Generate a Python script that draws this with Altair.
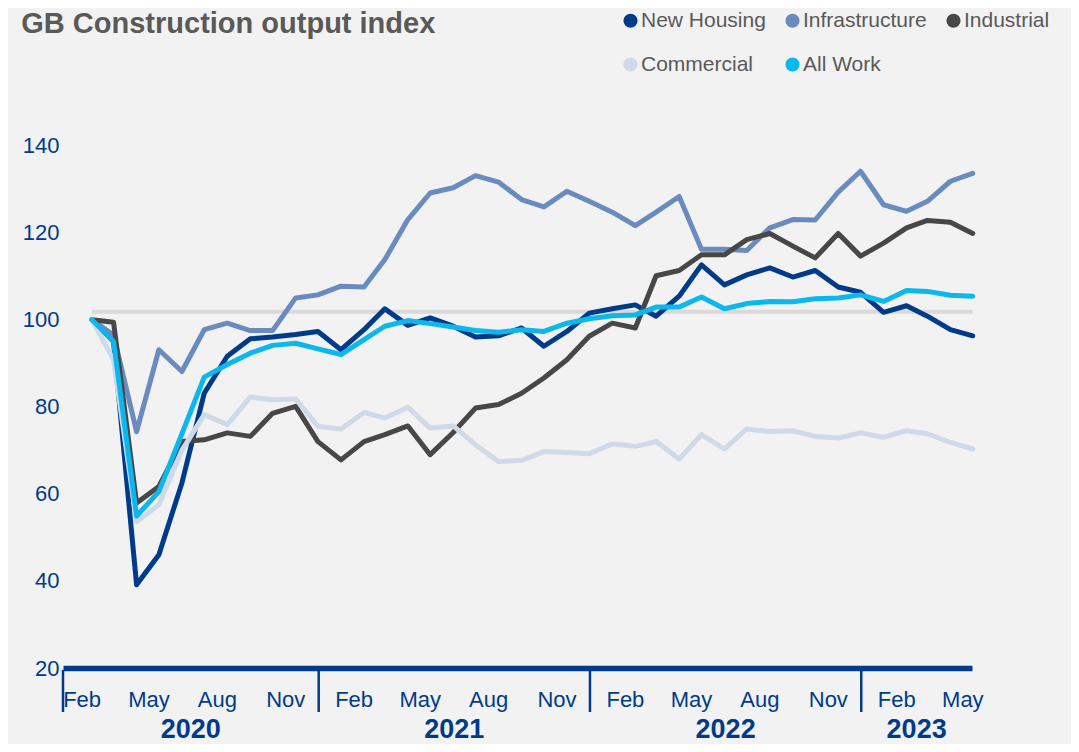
import altair as alt
import pandas as pd

# ---------------- data ----------------
months = pd.date_range("2020-02-01", periods=40, freq="MS") + pd.Timedelta(days=14)

series_names = ["New Housing", "Infrastructure", "Industrial", "Commercial", "All Work"]
series_colors = ["#003B8A", "#6A8BBE", "#474747", "#CED9EA", "#0BB8EE"]

new_housing = [100, 95.0, 39.1, 46.0, 62.5, 83.1, 91.6, 95.6, 96.0, 96.6,
               97.3, 93.1, 97.7, 102.5, 98.7, 100.4, 98.5, 96.0, 96.3, 98.1,
               93.9, 97.3, 101.5, 102.5, 103.4, 100.8, 105.4, 112.6, 108.0, 110.3,
               111.9, 109.8, 111.3, 107.5, 106.3, 101.7, 103.2, 100.8, 97.7, 96.3]
infrastructure = [100, 96.5, 74.3, 93.1, 88.1, 97.7, 99.2, 97.5, 97.5, 105.0,
                  105.7, 107.7, 107.5, 113.8, 123.0, 129.1, 130.3, 133.1, 131.6, 127.6,
                  125.9, 129.5, 127.2, 124.7, 121.6, 124.7, 128.3, 116.2, 116.2, 115.9,
                  121.1, 123.0, 122.9, 129.3, 134.1, 126.4, 124.9, 127.2, 131.8, 133.6]
industrial = [100, 99.4, 57.9, 61.7, 72.0, 72.4, 74.0, 73.2, 78.5, 80.1,
              72.0, 67.8, 72.0, 73.6, 75.6, 69.0, 74.1, 79.7, 80.5, 83.1,
              86.6, 90.8, 96.2, 99.2, 98.1, 110.1, 111.3, 114.9, 114.9, 118.4,
              119.8, 116.9, 114.2, 119.8, 114.6, 117.6, 121.1, 122.8, 122.4, 119.8]
commercial = [100, 90.8, 53.6, 57.5, 70.0, 78.2, 75.9, 82.2, 81.6, 81.8,
              75.5, 74.9, 78.7, 77.4, 79.9, 75.1, 75.6, 71.3, 67.4, 67.7,
              69.7, 69.5, 69.2, 71.5, 70.9, 72.0, 68.0, 73.6, 70.3, 74.9,
              74.3, 74.5, 73.2, 72.8, 74.0, 73.0, 74.5, 73.8, 71.8, 70.3]
all_work = [100, 95.0, 54.9, 60.5, 73.8, 86.8, 89.7, 92.3, 94.1, 94.6,
            93.3, 92.0, 95.4, 98.5, 99.8, 99.1, 98.3, 97.5, 97.1, 97.7,
            97.3, 99.2, 100.2, 100.9, 101.1, 102.9, 102.9, 105.2, 102.5, 103.7,
            104.2, 104.1, 104.8, 105.0, 105.7, 104.2, 106.7, 106.5, 105.6, 105.4]

reference_level = 101.8

year_labels = ["2020", "2021", "2022", "2023"]
year_starts = pd.to_datetime(["2020-01-07", "2020-12-16", "2021-12-16", "2022-12-16"])
year_ends = pd.to_datetime(["2020-12-16", "2021-12-16", "2022-12-16", "2023-05-14"])

tick_months = [(y, m) for y in (2020, 2021, 2022, 2023) for m in (2, 5, 8, 11)
               if (y, m) <= (2023, 5)]
y_ticks = [20, 40, 60, 80, 100, 120, 140]

# ---------------- tables ----------------
all_values = [new_housing, infrastructure, industrial, commercial, all_work]
rows = []
for name, vals in zip(series_names, all_values):
    for d, v in zip(months, vals):
        rows.append({"date": d, "series": name, "value": v})
df = pd.DataFrame(rows)

ref_df = pd.DataFrame({"start": [months[0]], "end": [months[-1]], "value": [reference_level]})
years_df = pd.DataFrame({"year": year_labels, "start": year_starts, "end": year_ends})
years_df["mid"] = years_df["start"] + (years_df["end"] - years_df["start"]) / 2

FONT = "Liberation Sans"
BLUE = "#003B8A"
W, H = 909, 566

x_scale = alt.Scale(domain=[alt.DateTime(year=2020, month=1, date=7),
                            alt.DateTime(year=2023, month=5, date=14)])
y_scale = alt.Scale(domain=[20, 150], nice=False, zero=False)
color_scale = alt.Scale(domain=series_names, range=series_colors)

x_axis = alt.Axis(
    values=[alt.DateTime(year=y, month=m, date=1) for y, m in tick_months],
    format="%b", title=None, ticks=False, tickSize=0, grid=False,
    domainColor=BLUE, domainWidth=5.5, labelColor=BLUE, labelFont=FONT,
    labelFontSize=22, labelPadding=38, labelBaseline="alphabetic",
    labelFlush=False, labelOverlap=False, labelBound=False,
)
y_axis = alt.Axis(values=y_ticks, title=None, domain=False, ticks=False, grid=False,
                  labelColor=BLUE, labelFont=FONT, labelFontSize=22, labelPadding=4)

base = alt.Chart(df)

legend_layer = base.mark_circle(size=10, opacity=1).encode(
    x=alt.X("date:T", scale=x_scale, axis=x_axis),
    y=alt.Y("value:Q", scale=y_scale, axis=y_axis),
    color=alt.Color("series:N", scale=color_scale, legend=alt.Legend(
        title=None, orient="none", legendX=557, legendY=-92,
        direction="horizontal", columns=3, symbolType="circle", symbolSize=200,
        symbolStrokeWidth=0, symbolOpacity=1, labelFont=FONT, labelFontSize=21,
        labelColor="#595959", labelOffset=0, columnPadding=16, rowPadding=22,
        labelLimit=300,
    )),
)

ref_layer = alt.Chart(ref_df).mark_rule(color="#D9D9D9", strokeWidth=4).encode(
    x=alt.X("start:T", scale=x_scale), x2="end:T",
    y=alt.Y("value:Q", scale=y_scale),
)

line_layers = []
for name in series_names:
    line_layers.append(
        base.transform_filter(alt.datum.series == name).mark_line(
            strokeWidth=5, strokeJoin="round", strokeCap="round", clip=False
        ).encode(
            x=alt.X("date:T", scale=x_scale),
            y=alt.Y("value:Q", scale=y_scale),
            color=alt.Color("series:N", scale=color_scale, legend=None),
        )
    )

divider_layer = alt.Chart(years_df).mark_rule(color=BLUE, strokeWidth=2.5).encode(
    x=alt.X("start:T", scale=x_scale),
    y=alt.value(H + 2), y2=alt.value(H + 44),
)

year_text = alt.Chart(years_df).mark_text(
    font=FONT, fontSize=27, fontWeight="bold", color=BLUE, baseline="alphabetic"
).encode(
    x=alt.X("mid:T", scale=x_scale),
    y=alt.value(H + 70),
    text="year:N",
)

chart = alt.layer(
    legend_layer, ref_layer, *line_layers, divider_layer, year_text
).properties(
    width=W, height=H,
    autosize=alt.AutoSizeParams(type="none"),
    padding={"left": 55, "top": 94, "right": 99, "bottom": 76},
    title=alt.TitleParams(
        "GB Construction output index", anchor="start", font=FONT, fontSize=29,
        fontWeight="bold", color="#595959", dx=-1, dy=33,
    ),
).configure(background="#F2F2F2").configure_view(stroke=None)

chart.save("out.html", embed_options={"renderer": "svg", "actions": False})
